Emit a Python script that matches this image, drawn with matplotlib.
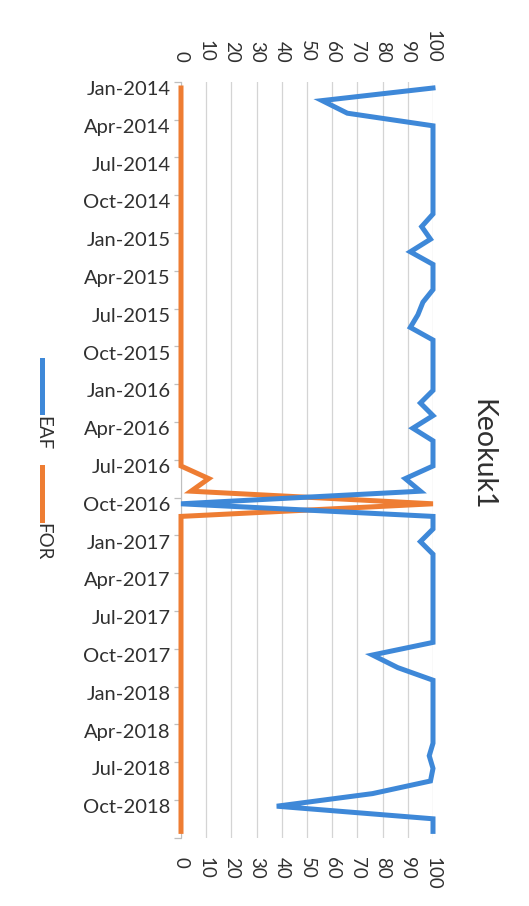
import matplotlib
matplotlib.use("Agg")
import matplotlib.pyplot as plt
from matplotlib.lines import Line2D

# ---- data (monthly, Jan-2014 .. Dec-2018) ----
months = [f"{m}-{y}" for y in range(2014, 2019)
          for m in ["Jan", "Feb", "Mar", "Apr", "May", "Jun",
                    "Jul", "Aug", "Sep", "Oct", "Nov", "Dec"]]
eaf = [100, 56, 66, 100, 100, 100, 100, 100, 100, 100,
       100, 95.5, 99, 91, 100, 100, 100, 96, 94, 91,
       100, 100, 100, 100, 100, 95, 100, 92, 100, 100,
       100, 89, 95, 0, 100, 100, 95, 100, 100, 100,
       100, 100, 100, 100, 100, 76, 86, 100, 100, 100,
       100, 100, 100, 98.5, 100, 99, 76, 38, 100, 100]
for_ = [0] * 31 + [11, 4, 100] + [0] * 26
series_names = ["EAF", "FOR"]
series_colors = ["#3E88D8", "#EE7D33"]
value_ticks = [0, 10, 20, 30, 40, 50, 60, 70, 80, 90, 100]
title = "Keokuk1"

plt.rcParams['font.family'] = ['Lato', 'DejaVu Sans']
txt = '#303030'

fig = plt.figure(figsize=(5.29, 9.06), dpi=100)
ax = fig.add_axes([181 / 529, 1 - 837.7 / 906, (433 - 181) / 529, (837.7 - 81.7) / 906])

idx = list(range(len(months)))
ax.plot(for_, idx, color=series_colors[1], lw=3.6, solid_joinstyle='miter',
        zorder=3, clip_on=False)
ax.plot(eaf, idx, color=series_colors[0], lw=3.6, solid_joinstyle='miter',
        zorder=4, clip_on=False)

ax.set_xlim(0, 100)
ax.set_ylim(len(months) - 0.5, -0.5)

# value axis: labels on top and bottom, rotated
ax.set_xticks(value_ticks)
ax.set_xticklabels([str(v) for v in value_ticks])
ax.tick_params(axis='x', which='both', length=0, labeltop=True, labelbottom=True,
               labelsize=13.5, labelcolor=txt, pad=14)
for t in ax.xaxis.get_major_ticks():
    t.label2.set_rotation(-90)
    t.label1.set_rotation(-90)

ax.grid(axis='x', color='#d4d4d4', lw=0.9, zorder=0)

# date axis
qpos = idx[::3]
ax.set_yticks(qpos)
ax.set_yticklabels([months[i] for i in qpos])
ax.tick_params(axis='y', which='major', length=0, labelsize=14.5, labelcolor=txt, pad=7.5)
ax.set_yticks([i - 0.5 for i in idx[::3]] + [len(months) - 0.5], minor=True)
ax.tick_params(axis='y', which='minor', length=5, color='#bfbfbf', width=0.9, direction='out')

for s in ['top', 'right', 'bottom']:
    ax.spines[s].set_visible(False)
ax.spines['left'].set_color('#bfbfbf')

# title (rotated)
fig.text(482 / 529, 1 - 455 / 906, title, rotation=-90, ha='center', va='center',
         fontsize=20.5, color=txt)

# legend (rotated, manual)
leg = [(360, 412, 433), (467, 520, 542)]
for (y0, y1, ty), name, col in zip(leg, series_names, series_colors):
    fig.add_artist(Line2D([42 / 529, 42 / 529], [1 - y0 / 906, 1 - y1 / 906],
                          color=col, lw=3.6, transform=fig.transFigure))
    fig.text(43 / 529, 1 - ty / 906, name, rotation=-90, ha='center', va='center',
             fontsize=13.5, color=txt)

fig.savefig("out.png", dpi=100)
